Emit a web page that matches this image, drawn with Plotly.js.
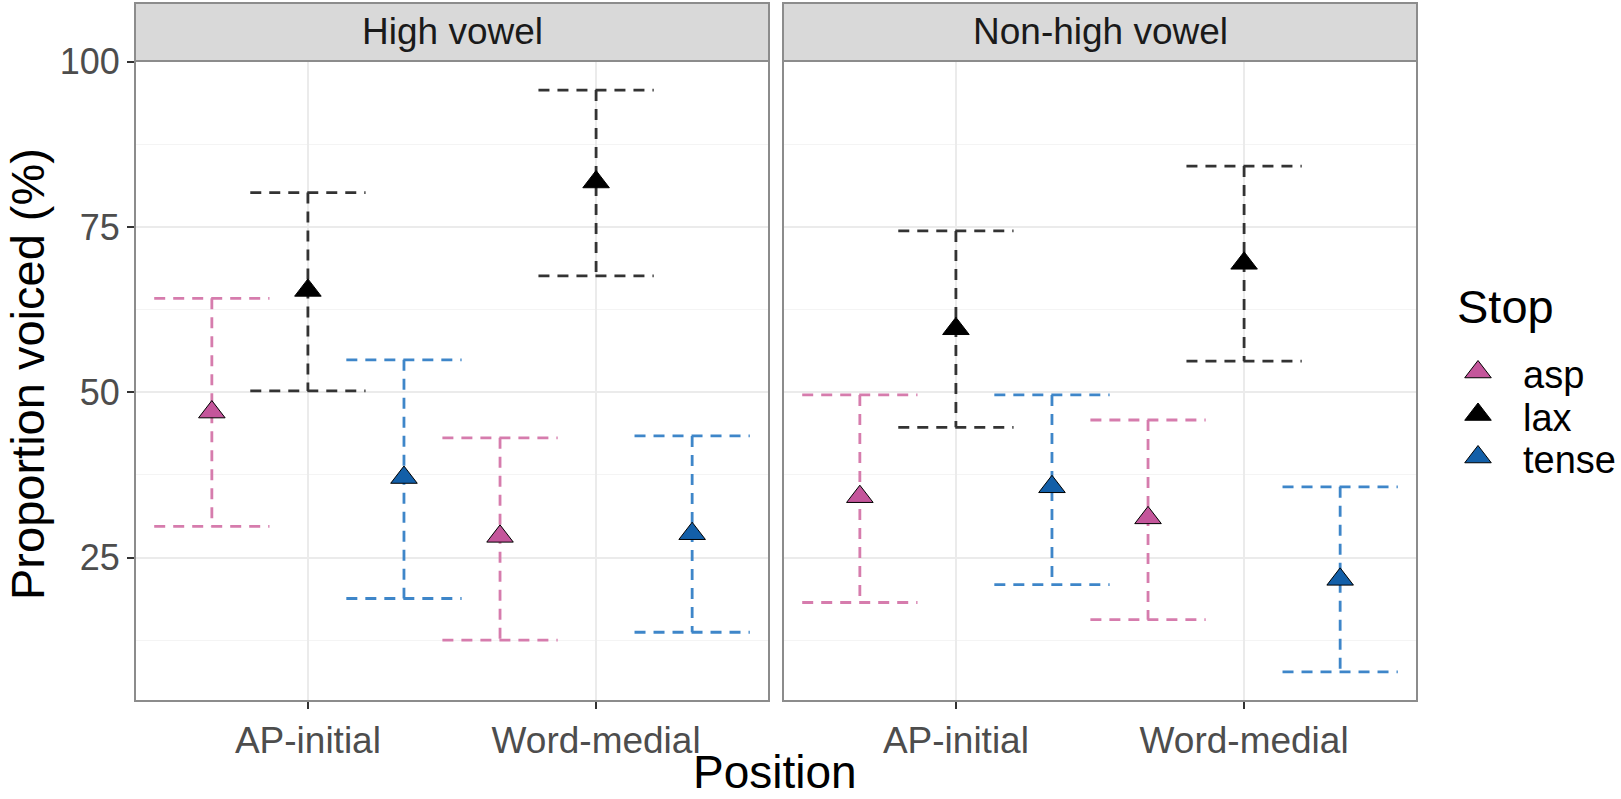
<!DOCTYPE html>
<html>
<head>
<meta charset="utf-8">
<script src="https://cdn.plot.ly/plotly-3.0.1.min.js"></script>
<style>
  html, body { margin: 0; padding: 0; background: #fff; }
  #chart { width: 1621px; height: 799px; }
</style>
</head>
<body>
<div id="chart"></div>
<script>
// categories
var positions = ['AP-initial', 'Word-medial'];
var facets = ['High vowel', 'Non-high vowel'];
var stops = ['asp', 'lax', 'tense'];

// one row per facet x position
var rowFacet = ['High vowel', 'High vowel', 'Non-high vowel', 'Non-high vowel'];
var rowPosition = ['AP-initial', 'Word-medial', 'AP-initial', 'Word-medial'];

// proportion voiced (%), mean and interval per row
var aspMean = [47.0, 28.2, 34.2, 31.0];
var aspLower = [29.7, 12.5, 18.2, 15.6];
var aspUpper = [64.2, 43.1, 49.6, 45.8];

var laxMean = [65.4, 81.8, 59.6, 69.5];
var laxLower = [50.2, 67.6, 44.7, 54.7];
var laxUpper = [80.2, 95.7, 74.4, 84.2];

var tenseMean = [37.1, 28.6, 35.7, 21.7];
var tenseLower = [18.8, 13.7, 20.9, 7.7];
var tenseUpper = [54.9, 43.4, 49.6, 35.7];

var FONT = 'Liberation Sans, Arial, Helvetica, sans-serif';
var BORDER = '#8c8c8c';

var series = {
    asp: { mean: aspMean, lower: aspLower, upper: aspUpper, fill: '#C4569B', line: '#D67CAD', dodge: -1 / 3 },
    lax: { mean: laxMean, lower: laxLower, upper: laxUpper, fill: '#000000', line: '#333333', dodge: 0 },
    tense: { mean: tenseMean, lower: tenseLower, upper: tenseUpper, fill: '#135FA8', line: '#3E86C9', dodge: 1 / 3 }
};
var capHalf = 0.2;

var errTraces = [];
var pointTraces = [];

stops.forEach(function(s) {
    var d = series[s];
    facets.forEach(function(f, fi) {
        var xa = fi === 0 ? 'x' : 'x2';
        var px = [], py = [], ex = [], ey = [];
        rowFacet.forEach(function(rf, i) {
            if (rf !== f) return;
            var xc = positions.indexOf(rowPosition[i]) + 1 + d.dodge;
            px.push(xc);
            py.push(d.mean[i]);
            // top cap, stem, bottom cap as separate pieces so dashes don't overlap
            ex.push(xc - capHalf, xc + capHalf, null, xc, xc, null, xc - capHalf, xc + capHalf, null);
            ey.push(d.upper[i], d.upper[i], null, d.upper[i], d.lower[i], null, d.lower[i], d.lower[i], null);
        });
        errTraces.push({
            x: ex, y: ey, xaxis: xa, yaxis: 'y',
            mode: 'lines', type: 'scatter', connectgaps: false,
            line: { color: d.line, width: 2.8, dash: '11px,8px' },
            showlegend: false, hoverinfo: 'skip'
        });
        pointTraces.push({
            x: px, y: py, xaxis: xa, yaxis: 'y',
            mode: 'markers', type: 'scatter', name: s,
            marker: { symbol: 'triangle-up', size: 23, color: d.fill, line: { color: '#000', width: 1 } },
            showlegend: false
        });
    });
});

// legend keys drawn on their own small axis
var keyTrace = {
    x: stops.map(function() { return 0.5; }),
    y: stops.map(function(s, i) { return i; }),
    xaxis: 'x3', yaxis: 'y3',
    mode: 'markers', type: 'scatter', showlegend: false, hoverinfo: 'skip',
    marker: {
        symbol: 'triangle-up', size: 23,
        color: stops.map(function(s) { return series[s].fill; }),
        line: { color: '#000', width: 1 }
    }
};

var plotW = 1486, plotH = 640;
var stripH = 58 / plotH;
function px2x(p) { return (p - 135) / plotW; }
function px2y(p) { return (701 - p) / plotH; }

var xBase = {
    range: [0.4, 2.6],
    tickmode: 'array', tickvals: [1, 2], ticktext: positions,
    showgrid: true, gridcolor: '#EBEBEB', gridwidth: 2,
    zeroline: false, showline: false,
    ticks: 'outside', ticklen: 7, tickwidth: 2, tickcolor: '#333333',
    tickfont: { family: FONT, size: 37, color: '#4D4D4D' },
    anchor: 'y'
};

var shapes = [];
var annotations = [];
['x', 'x2'].forEach(function(xa, i) {
    shapes.push({
        type: 'rect', xref: xa + ' domain', yref: 'paper',
        x0: 0, x1: 1, y0: 1, y1: 1 + stripH,
        fillcolor: '#D9D9D9', line: { color: BORDER, width: 2 }, layer: 'above'
    });
    shapes.push({
        type: 'rect', xref: xa + ' domain', yref: 'y domain',
        x0: 0, x1: 1, y0: 0, y1: 1,
        line: { color: BORDER, width: 2 }, layer: 'above'
    });
    annotations.push({
        xref: xa + ' domain', yref: 'paper', x: 0.5, y: 1 + stripH / 2,
        text: facets[i], showarrow: false, xanchor: 'center', yanchor: 'middle',
        font: { family: FONT, size: 37, color: '#1A1A1A' }
    });
});
annotations.push({
    xref: 'paper', yref: 'paper', x: 0, y: px2y(374), xshift: -108,
    text: 'Proportion voiced (%)', textangle: -90, showarrow: false,
    xanchor: 'center', yanchor: 'middle',
    font: { family: FONT, size: 47, color: '#000' }
});
annotations.push({
    xref: 'paper', yref: 'paper', x: px2x(775), y: 0, yshift: -71,
    text: 'Position', showarrow: false, xanchor: 'center', yanchor: 'middle',
    font: { family: FONT, size: 46, color: '#000' }
});
// legend title and labels
annotations.push({
    xref: 'paper', yref: 'paper', x: px2x(1455), y: px2y(306),
    text: 'Stop', showarrow: false, xanchor: 'left', yanchor: 'middle',
    font: { family: FONT, size: 47, color: '#000' }
});
stops.forEach(function(s, i) {
    annotations.push({
        xref: 'x3', yref: 'y3', x: 0.5, y: i, xshift: 43, yshift: -3,
        text: s, showarrow: false, xanchor: 'left', yanchor: 'middle',
        font: { family: FONT, size: 38, color: '#000' }
    });
});

var layout = {
    width: 1621, height: 799,
    margin: { l: 135, r: 0, t: 61, b: 98 },
    paper_bgcolor: '#fff', plot_bgcolor: '#fff',
    font: { family: FONT },
    showlegend: false,
    xaxis: Object.assign({}, xBase, { domain: [0, px2x(769)] }),
    xaxis2: Object.assign({}, xBase, { domain: [px2x(783), px2x(1417)] }),
    yaxis: {
        range: [3.3, 100.1],
        tickmode: 'array', tickvals: [25, 50, 75, 100],
        showgrid: true, gridcolor: '#EBEBEB', gridwidth: 2,
        minor: { tickmode: 'array', tickvals: [12.5, 37.5, 62.5, 87.5], showgrid: true, gridcolor: '#F4F4F4', gridwidth: 1, ticks: '' },
        zeroline: false, showline: false,
        ticks: 'outside', ticklen: 7, tickwidth: 2, tickcolor: '#333333',
        tickfont: { family: FONT, size: 36, color: '#4D4D4D' }
    },
    xaxis3: { domain: [px2x(1458), px2x(1498)], range: [0, 1], visible: false, anchor: 'y3', fixedrange: true },
    yaxis3: { domain: [px2y(480), px2y(350)], range: [2.541, -0.518], visible: false, anchor: 'x3', fixedrange: true },
    shapes: shapes,
    annotations: annotations
};

Plotly.newPlot('chart', errTraces.concat(pointTraces, [keyTrace]), layout, { staticPlot: true });
</script>
</body>
</html>
